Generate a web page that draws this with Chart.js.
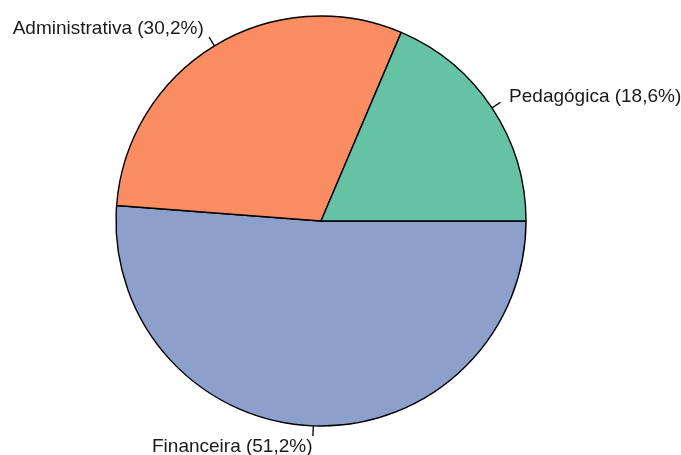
<!DOCTYPE html>
<html>
<head>
<meta charset="utf-8">
<script src="https://cdn.jsdelivr.net/npm/chart.js@4/dist/chart.umd.min.js"></script>
<style>
  html,body{margin:0;padding:0;background:#fff;}
  #wrap{width:681px;height:455px;}
</style>
</head>
<body>
<div id="wrap"><canvas id="pie"></canvas></div>
<script>
// === Dados (ordem de desenho: a partir das 3h, sentido horário) ===
const categorias = ['Financeira', 'Administrativa', 'Pedagógica'];
const percentuais = [51.2, 30.2, 18.6];
const cores = ['#8DA0CB', '#FC8D62', '#66C2A5'];

const rotulos = categorias.map((c,i)=>`${c} (${percentuais[i].toFixed(1).replace('.',',')}%)`);

// rótulos externos com linha-guia, estilo pie() do R
const labelPlugin = {
  id: 'rlabels',
  afterDraw(chart){
    const ctx = chart.ctx;
    const meta = chart.getDatasetMeta(0);
    ctx.save();
    ctx.font = '19px "Liberation Sans", Arial, sans-serif';
    ctx.fillStyle = '#1a1a1a';
    ctx.strokeStyle = '#000';
    ctx.lineWidth = 1.3;
    ctx.textBaseline = 'middle';
    meta.data.forEach((arc,i)=>{
      const {x, y, startAngle, endAngle, outerRadius: r} = arc.getProps(['x','y','startAngle','endAngle','outerRadius'], true);
      const a = (startAngle + endAngle) / 2;
      const cx = Math.cos(a), cy = Math.sin(a);
      ctx.beginPath();
      ctx.moveTo(x + r*cx, y + r*cy);
      ctx.lineTo(x + 1.05*r*cx, y + 1.05*r*cy);
      ctx.stroke();
      ctx.textAlign = cx < 0 ? 'right' : 'left';
      ctx.fillText(rotulos[i], x + 1.1*r*cx, y + 1.1*r*cy);
    });
    ctx.restore();
  }
};

new Chart(document.getElementById('pie'), {
  type: 'pie',
  data: {
    labels: rotulos,
    datasets: [{
      data: percentuais,
      backgroundColor: cores,
      borderColor: '#000',
      borderWidth: 1.4,
      hoverOffset: 0
    }]
  },
  options: {
    responsive: true,
    maintainAspectRatio: false,
    animation: false,
    rotation: 90,
    radius: 205,
    layout: { padding: { left: 0, right: 39, top: 0, bottom: 13 } },
    plugins: { legend: { display: false }, tooltip: { enabled: false } },
    events: []
  },
  plugins: [labelPlugin]
});
</script>
</body>
</html>
